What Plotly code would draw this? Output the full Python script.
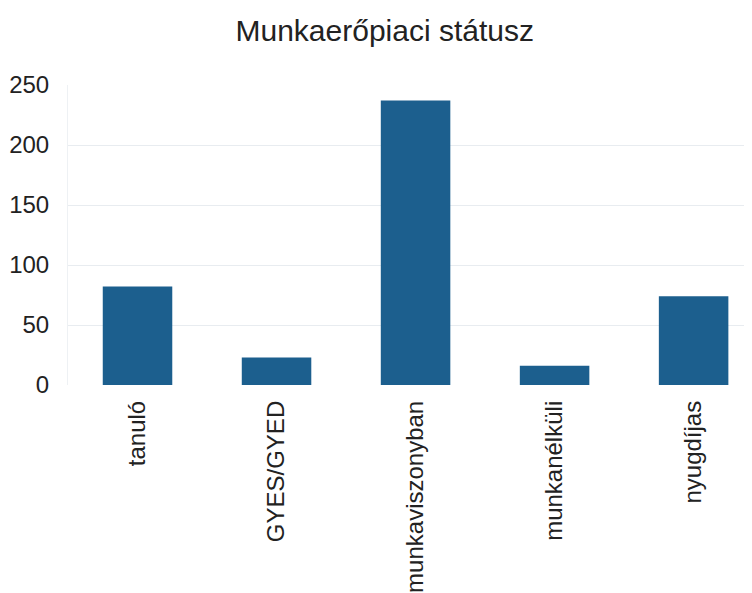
import plotly.graph_objects as go

categories = ["tanuló", "GYES/GYED", "munkaviszonyban", "munkanélküli", "nyugdíjas"]
values = [82, 23, 237, 16, 74]
y_ticks = [0, 50, 100, 150, 200, 250]

fig = go.Figure(
    go.Bar(
        x=categories,
        y=values,
        marker=dict(color="#1c5f8e", line=dict(width=0)),
        width=0.5,
    )
)

fig.update_layout(
    width=752,
    height=593,
    margin=dict(l=60, r=8, t=77, b=216),
    paper_bgcolor="white",
    plot_bgcolor="white",
    showlegend=False,
    font=dict(family="Liberation Sans, Arial, sans-serif", color="#222222"),
    title=dict(
        text="Munkaerőpiaci státusz",
        x=0.501,
        xanchor="center",
        y=0.962,
        yanchor="middle",
        font=dict(size=30, color="#222222"),
    ),
)

fig.update_xaxes(
    type="category",
    range=[-0.5, 4.42],
    tickangle=-90,
    tickfont=dict(size=24, color="#222222"),
    showgrid=False,
    showline=False,
    ticks="",
    ticklen=0,
    ticklabelstandoff=10,
    automargin=False,
)

fig.update_yaxes(
    range=[0, 250],
    tickvals=y_ticks,
    tickfont=dict(size=24, color="#222222"),
    showgrid=True,
    gridcolor="#e8ecf0",
    gridwidth=1,
    zeroline=False,
    showline=True,
    linecolor="#eef1f4",
    linewidth=1,
    ticks="",
    ticklabelstandoff=13,
    automargin=False,
)

fig.write_html("out.html")
